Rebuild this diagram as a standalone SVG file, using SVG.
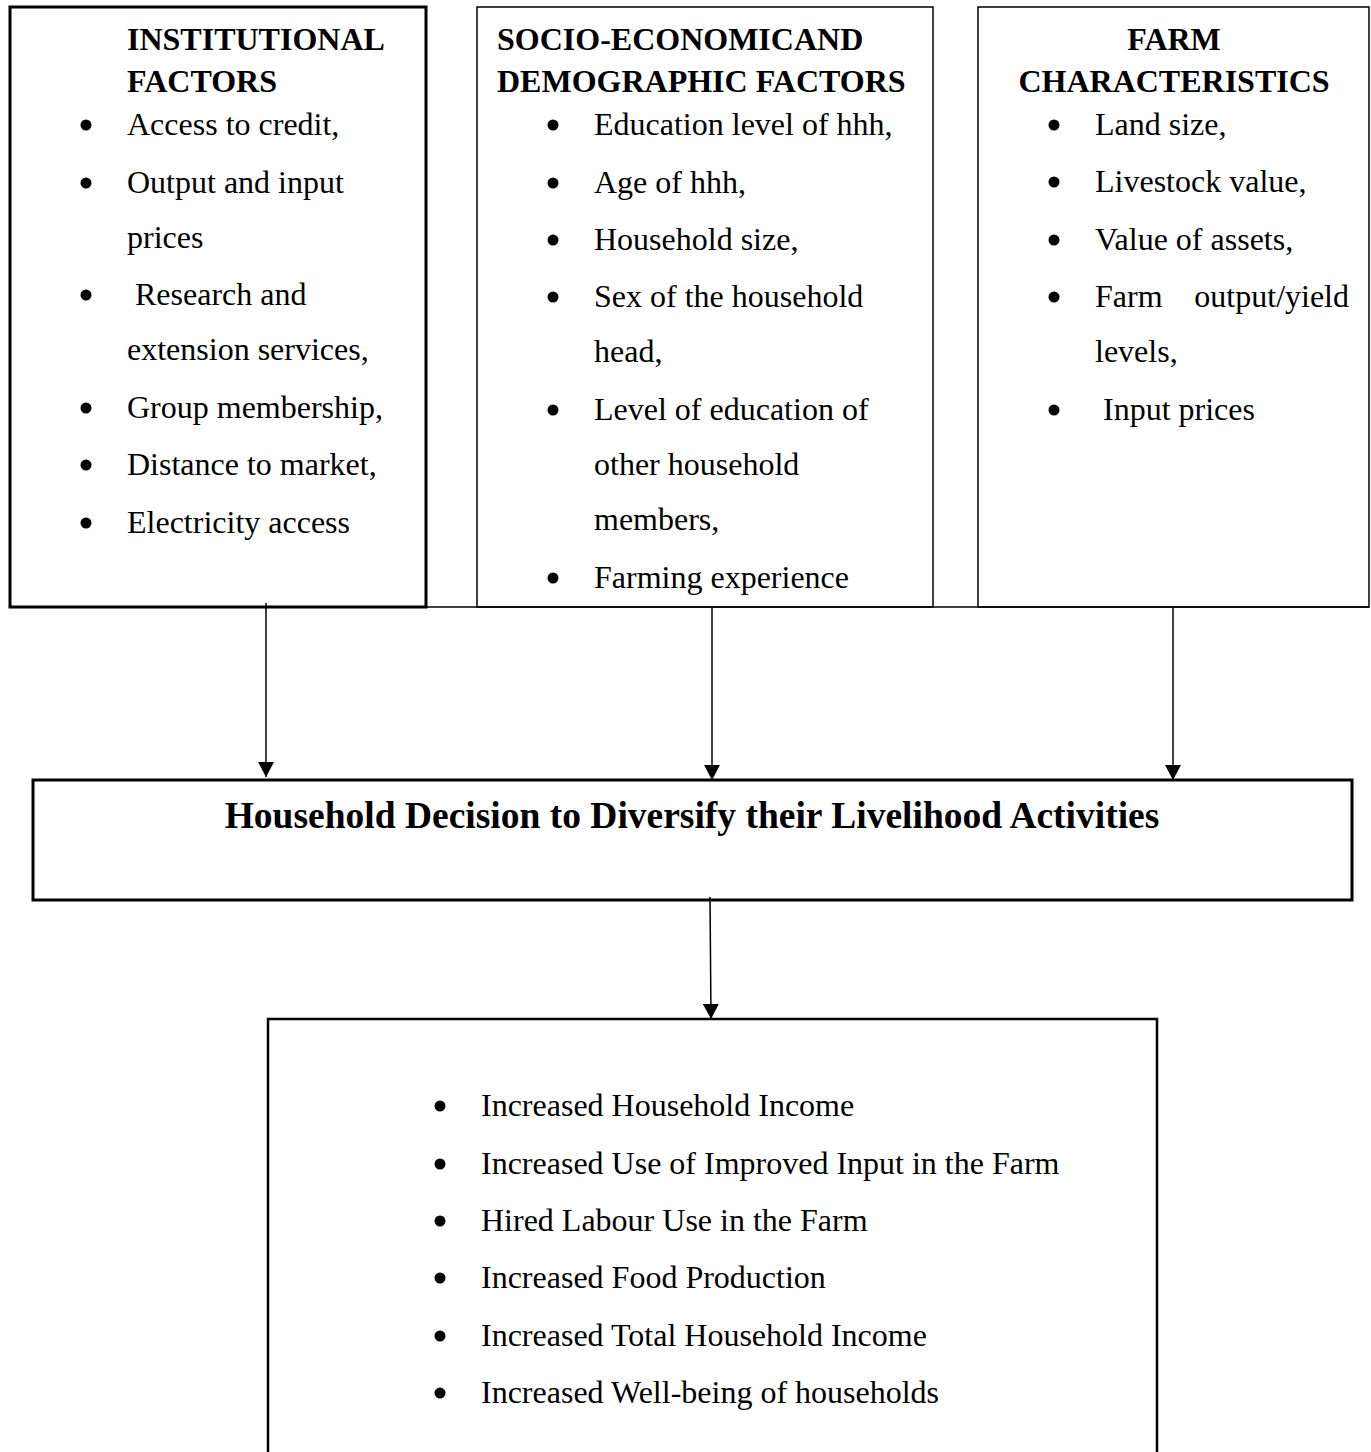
<svg xmlns="http://www.w3.org/2000/svg" width="1371" height="1452" viewBox="0 0 1371 1452">
<style>
text{font-family:"Liberation Serif","Times New Roman",serif;fill:#000}
.t{font-size:32px}
.h{font-size:32px;font-weight:bold}
.big{font-size:37.5px;font-weight:bold}
.box{fill:#fff;stroke:#000}
.b{fill:#000}
.con{stroke:#000;stroke-width:1.5;fill:none}
</style>
<defs>
<marker id="ah" markerUnits="userSpaceOnUse" markerWidth="16" markerHeight="16" viewBox="0 0 16 16" refX="15" refY="8" orient="auto">
<path d="M0,0 L15,8 L0,16 Z" fill="#000"/>
</marker>
</defs>
<rect width="1371" height="1452" fill="#fff"/>
<g id="node-institutional">
<rect class="box" x="10" y="7" width="416" height="600" stroke-width="3"/>
<text class="h" x="127" y="50">INSTITUTIONAL</text>
<text class="h" x="127" y="92">FACTORS</text>
<circle class="b" cx="86" cy="125" r="5.5"/><text class="t" x="127" y="135">Access to credit,</text>
<circle class="b" cx="86" cy="183" r="5.5"/><text class="t" x="127" y="193">Output and input</text>
<text class="t" x="127" y="248">prices</text>
<circle class="b" cx="86" cy="295" r="5.5"/><text class="t" x="135" y="305">Research and</text>
<text class="t" x="127" y="360">extension services,</text>
<circle class="b" cx="86" cy="408" r="5.5"/><text class="t" x="127" y="418">Group membership,</text>
<circle class="b" cx="86" cy="465" r="5.5"/><text class="t" x="127" y="475">Distance to market,</text>
<circle class="b" cx="86" cy="523" r="5.5"/><text class="t" x="127" y="533">Electricity access</text>
</g>
<g id="node-socio">
<rect class="box" x="477" y="7" width="456" height="600" stroke-width="1.5"/>
<text class="h" x="497" y="50">SOCIO-ECONOMICAND</text>
<text class="h" x="497" y="92">DEMOGRAPHIC FACTORS</text>
<circle class="b" cx="553" cy="125" r="5.5"/><text class="t" x="594" y="135">Education level of hhh,</text>
<circle class="b" cx="553" cy="183" r="5.5"/><text class="t" x="594" y="193">Age of hhh,</text>
<circle class="b" cx="553" cy="240" r="5.5"/><text class="t" x="594" y="250">Household size,</text>
<circle class="b" cx="553" cy="297" r="5.5"/><text class="t" x="594" y="307">Sex of the household</text>
<text class="t" x="594" y="362">head,</text>
<circle class="b" cx="553" cy="410" r="5.5"/><text class="t" x="594" y="420">Level of education of</text>
<text class="t" x="594" y="475">other household</text>
<text class="t" x="594" y="530">members,</text>
<circle class="b" cx="553" cy="578" r="5.5"/><text class="t" x="594" y="588">Farming experience</text>
</g>
<g id="node-farm">
<rect class="box" x="978" y="7" width="391" height="600" stroke-width="1.5"/>
<text class="h" x="1174" y="50" text-anchor="middle">FARM</text>
<text class="h" x="1174" y="92" text-anchor="middle">CHARACTERISTICS</text>
<circle class="b" cx="1054" cy="125" r="5.5"/><text class="t" x="1095" y="135">Land size,</text>
<circle class="b" cx="1054" cy="182" r="5.5"/><text class="t" x="1095" y="192">Livestock value,</text>
<circle class="b" cx="1054" cy="240" r="5.5"/><text class="t" x="1095" y="250">Value of assets,</text>
<circle class="b" cx="1054" cy="297" r="5.5"/><text class="t" x="1095" y="307">Farm</text><text class="t" x="1349" y="307" text-anchor="end">output/yield</text>
<text class="t" x="1095" y="362">levels,</text>
<circle class="b" cx="1054" cy="410" r="5.5"/><text class="t" x="1103" y="420">Input prices</text>
</g>
<g id="node-decision">
<rect class="box" x="33" y="780" width="1319" height="120" stroke-width="3"/>
<text class="big" x="692" y="828" text-anchor="middle">Household Decision to Diversify their Livelihood Activities</text>
</g>
<g id="node-outcomes">
<rect class="box" x="268" y="1019" width="889" height="450" stroke-width="2.5"/>
<circle class="b" cx="440" cy="1106" r="5.5"/><text class="t" x="481" y="1116">Increased Household Income</text>
<circle class="b" cx="440" cy="1164" r="5.5"/><text class="t" x="481" y="1174">Increased Use of Improved Input in the Farm</text>
<circle class="b" cx="440" cy="1221" r="5.5"/><text class="t" x="481" y="1231">Hired Labour Use in the Farm</text>
<circle class="b" cx="440" cy="1278" r="5.5"/><text class="t" x="481" y="1288">Increased Food Production</text>
<circle class="b" cx="440" cy="1336" r="5.5"/><text class="t" x="481" y="1346">Increased Total Household Income</text>
<circle class="b" cx="440" cy="1393" r="5.5"/><text class="t" x="481" y="1403">Increased Well-being of households</text>
</g>
<g id="connectors">
<line class="con" x1="10" y1="607" x2="1369" y2="607"/>
<line class="con" x1="266" y1="603" x2="266" y2="777" marker-end="url(#ah)"/>
<line class="con" x1="712" y1="608" x2="712" y2="780" marker-end="url(#ah)"/>
<line class="con" x1="1173" y1="608" x2="1173" y2="780" marker-end="url(#ah)"/>
<line class="con" x1="710" y1="897" x2="711" y2="1019" marker-end="url(#ah)"/>
</g>
</svg>
